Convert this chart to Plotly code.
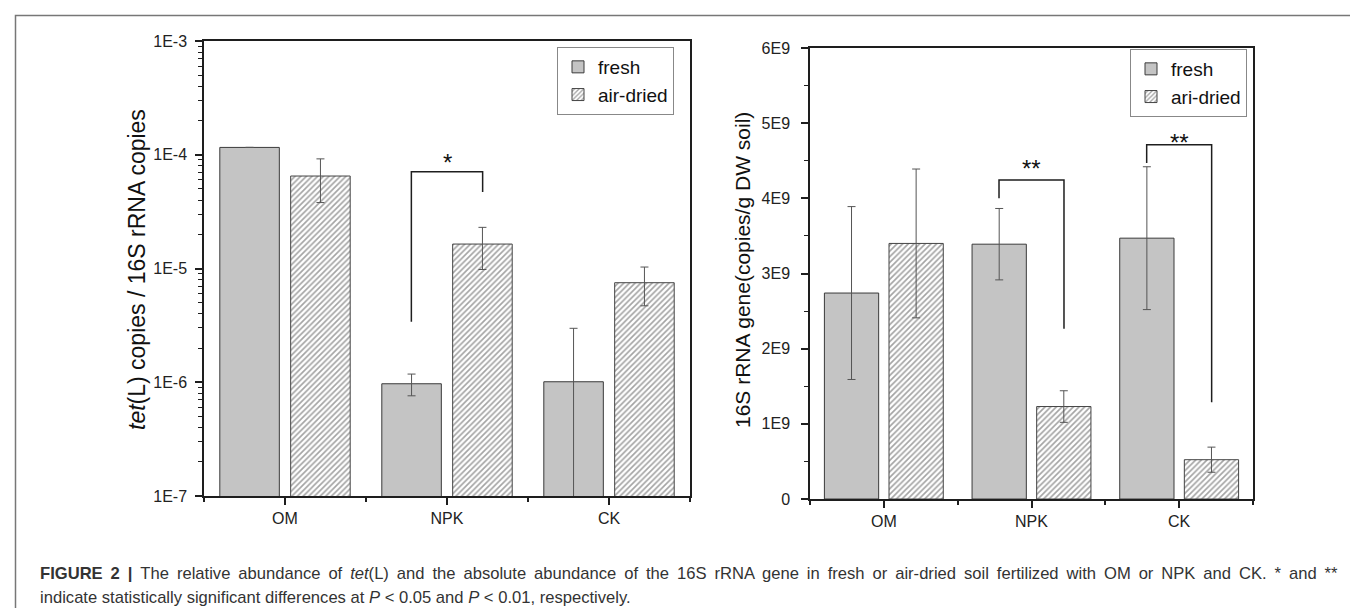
import math
import plotly.graph_objects as go

W, H = 1358, 608

categories = ["OM", "NPK", "CK"]
cat_pos = [0, 1, 2]

# Left panel: tet(L) copies / 16S rRNA copies (log scale)
tet_fresh = [1.16e-4, 9.7e-7, 1.01e-6]
tet_fresh_err = [None, 2.1e-7, 1.97e-6]
tet_dried = [6.5e-5, 1.64e-5, 7.5e-6]
tet_dried_err = [2.7e-5, 6.6e-6, 2.8e-6]

# Right panel: 16S rRNA gene copies/g DW soil
s16_fresh = [2.74e9, 3.39e9, 3.47e9]
s16_fresh_err = [1.15e9, 0.475e9, 0.95e9]
s16_dried = [3.40e9, 1.23e9, 0.523e9]
s16_dried_err = [0.99e9, 0.21e9, 0.167e9]

left_yticks = [1e-7, 1e-6, 1e-5, 1e-4, 1e-3]
left_yticktext = ["1E-7", "1E-6", "1E-5", "1E-4", "1E-3"]
right_yticks = [0, 1e9, 2e9, 3e9, 4e9, 5e9, 6e9]
right_yticktext = ["0", "1E9", "2E9", "3E9", "4E9", "5E9", "6E9"]

# significance brackets: (category, left-foot y, top y, right-foot y, label, label y)
left_brackets = [(1, 3.4e-6, 7.1e-5, 4.7e-5, "*", 9.6e-5)]
right_brackets = [(1, 4.0e9, 4.244e9, 2.266e9, "**", 4.483e9),
                  (2, 4.47e9, 4.713e9, 1.286e9, "**", 4.825e9)]
bar_offset = 0.22

caption_line1_words = ["<b>FIGURE", "2", "|</b>", "The", "relative", "abundance", "of",
                       "<i>tet</i>(L)", "and", "the", "absolute", "abundance", "of", "the",
                       "16S", "rRNA", "gene", "in", "fresh", "or", "air-dried", "soil",
                       "fertilized", "with", "OM", "or", "NPK", "and", "CK.", "*", "and", "**"]
caption_line2 = ("indicate statistically significant differences at <i>P</i> &lt; 0.05 and "
                 "<i>P</i> &lt; 0.01, respectively.")

FRESH = "#c4c4c4"
EDGE = "#3a3a3a"
AXC = "#1e1e1e"
FONT = "Liberation Sans, Arial, sans-serif"

fig = go.Figure()


def add_bars(xa, ya, fresh, fresh_err, dried, dried_err, dried_name, legend):
    fig.add_trace(go.Bar(
        x=cat_pos, y=fresh, name="fresh", xaxis=xa, yaxis=ya, legend=legend,
        marker=dict(color=FRESH, line=dict(color=EDGE, width=1)),
        error_y=dict(type="data", array=fresh_err, visible=True,
                     color="#555555", thickness=1, width=4),
    ))
    fig.add_trace(go.Bar(
        x=cat_pos, y=dried, name=dried_name, xaxis=xa, yaxis=ya, legend=legend,
        marker=dict(color="white", line=dict(color="#444444", width=1),
                    pattern=dict(shape="/", fgcolor="#4a4a4a", bgcolor="white",
                                 size=4, solidity=0.42)),
        error_y=dict(type="data", array=dried_err, visible=True,
                     color="#555555", thickness=1, width=4),
    ))


add_bars("x", "y", tet_fresh, tet_fresh_err, tet_dried, tet_dried_err, "air-dried", "legend")
add_bars("x2", "y2", s16_fresh, s16_fresh_err, s16_dried, s16_dried_err, "ari-dried", "legend2")


def add_brackets(brs, xa, ya, is_log):
    for c, yl, yt, yr, lab, ys in brs:
        fig.add_trace(go.Scatter(
            x=[c - bar_offset, c - bar_offset, c + bar_offset, c + bar_offset],
            y=[yl, yt, yt, yr], mode="lines", xaxis=xa, yaxis=ya,
            line=dict(color=AXC, width=1.5), showlegend=False, hoverinfo="skip"))
        fig.add_annotation(x=c, y=math.log10(ys) if is_log else ys,
                           xref=xa, yref=ya, text=lab, showarrow=False,
                           xanchor="center", yanchor="middle", yshift=-6,
                           font=dict(size=24, color="#111111", family=FONT))


add_brackets(left_brackets, "x", "y", True)
add_brackets(right_brackets, "x2", "y2", False)


def px_x(p):
    return p / W


def px_y(p):
    return 1 - p / H


tickfont = dict(family=FONT, size=16, color="#222222")
common_x = dict(range=[-0.5, 2.5], tickmode="array", tickvals=cat_pos, ticktext=categories,
                ticks="outside", ticklen=7, tickwidth=1.5, tickcolor=AXC,
                showline=True, linecolor=AXC, linewidth=1.5, mirror=True,
                showgrid=False, zeroline=False, tickfont=tickfont, automargin=False,
                minor=dict(tickmode="array", tickvals=[-0.5, 0.5, 1.5, 2.5],
                           ticks="outside", ticklen=4, tickwidth=1.5, tickcolor=AXC))

legend_common = dict(xanchor="left", yanchor="top", bgcolor="white",
                     bordercolor="#888888", borderwidth=1,
                     font=dict(family=FONT, size=19, color="#111111"),
                     tracegroupgap=0, itemwidth=30)

fig.update_layout(
    width=W, height=H, margin=dict(l=0, r=0, t=0, b=0),
    paper_bgcolor="white", plot_bgcolor="white",
    barmode="group", bargap=0.125, bargroupgap=0.16,
    font=dict(family=FONT, color="#222222"),
    xaxis=dict(domain=[px_x(196), px_x(682)], anchor="y", **common_x),
    xaxis2=dict(domain=[px_x(802), px_x(1245)], anchor="y2", **common_x),
    yaxis=dict(domain=[px_y(488), px_y(33)], anchor="x", type="log", range=[-7, -3],
               tickmode="array", tickvals=left_yticks, ticktext=left_yticktext,
               ticks="outside", ticklen=7, tickwidth=1.5, tickcolor=AXC, ticklabelstandoff=5,
               showline=True, linecolor=AXC, linewidth=1.5, mirror=True,
               showgrid=False, zeroline=False, tickfont=tickfont, automargin=False,
               minor=dict(tickmode="array",
                          tickvals=[k * 10.0 ** e for e in range(-7, -3) for k in range(2, 10)],
                          ticks="outside", ticklen=4, tickwidth=1.2, tickcolor=AXC)),
    yaxis2=dict(domain=[px_y(491), px_y(40)], anchor="x2", range=[0, 6e9],
                tickmode="array", tickvals=right_yticks, ticktext=right_yticktext,
                ticks="outside", ticklen=7, tickwidth=1.5, tickcolor=AXC, ticklabelstandoff=8,
                showline=True, linecolor=AXC, linewidth=1.5, mirror=True,
                showgrid=False, zeroline=False, tickfont=tickfont, automargin=False,
                minor=dict(tickmode="linear", tick0=0.5e9, dtick=1e9,
                           ticks="outside", ticklen=4, tickwidth=1.2, tickcolor=AXC)),
    legend=dict(x=px_x(549), y=px_y(39), **legend_common),
    legend2=dict(x=px_x(1122), y=px_y(41), **legend_common),
    showlegend=True,
)

# axis titles
fig.add_annotation(x=px_x(129), y=px_y(262), xref="paper", yref="paper",
                   xanchor="center", yanchor="middle",
                   text="<i>tet</i>(L) copies / 16S rRNA copies", textangle=-90,
                   showarrow=False, font=dict(family=FONT, size=23, color="#111111"))
fig.add_annotation(x=px_x(734), y=px_y(262), xref="paper", yref="paper",
                   xanchor="center", yanchor="middle",
                   text="16S rRNA gene(copies/g DW soil)", textangle=-90,
                   showarrow=False, font=dict(family=FONT, size=21, color="#111111"))

# caption (first line justified with thin spaces)
gap = " \u2009"
fig.add_annotation(x=px_x(30), y=px_y(565), xref="paper", yref="paper",
                   xanchor="left", yanchor="middle", showarrow=False, align="left",
                   text=gap.join(caption_line1_words),
                   font=dict(family=FONT, size=16.6, color="#333333"))
fig.add_annotation(x=px_x(30), y=px_y(589), xref="paper", yref="paper",
                   xanchor="left", yanchor="middle", showarrow=False, align="left",
                   text=caption_line2,
                   font=dict(family=FONT, size=16.6, color="#333333"))

# outer frame
fig.add_shape(type="rect", xref="paper", yref="paper",
              x0=px_x(7.5), x1=px_x(1352.5), y0=px_y(620), y1=px_y(7.5),
              line=dict(color="#777777", width=1.5), fillcolor="rgba(0,0,0,0)", layer="below")

fig.write_html("out.html")
